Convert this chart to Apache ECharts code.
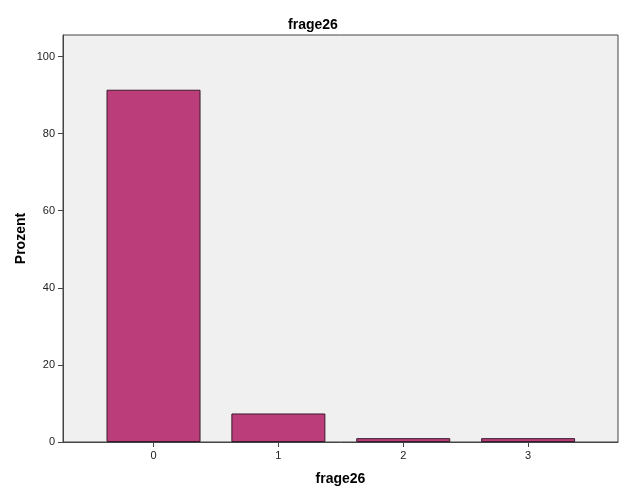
<!DOCTYPE html>
<html>
<head>
<meta charset="utf-8">
<script src="https://cdn.jsdelivr.net/npm/echarts@6/dist/echarts.min.js"></script>
<style>html,body{margin:0;padding:0;background:#fff}#c{width:626px;height:501px}</style>
</head>
<body>
<div id="c"></div>
<script>
const categories = [0, 1, 2, 3];
const values = [91.4, 7.4, 1.0, 1.0];
const yTicks = [0, 20, 40, 60, 80, 100];

const chart = echarts.init(document.getElementById('c'), null, {renderer: 'canvas'});
const font = 'Liberation Sans, Arial, sans-serif';
chart.setOption({
  animation: false,
  backgroundColor: '#ffffff',
  title: {
    text: 'frage26', left: 'center', top: 13,
    textStyle: {fontFamily: font, fontSize: 14, fontWeight: 'bold', color: '#000'}
  },
  grid: {
    left: 63, right: 8, top: 35, bottom: 59,
    show: true, backgroundColor: '#f0f0f0', borderColor: '#444', borderWidth: 1
  },
  xAxis: {
    type: 'value', min: -0.725, max: 3.72,
    name: 'frage26', nameLocation: 'middle', nameGap: 30,
    nameTextStyle: {fontFamily: font, fontSize: 14, fontWeight: 'bold', color: '#000'},
    axisLine: {show: true, onZero: false, lineStyle: {color: '#444'}},
    axisTick: {show: true, length: 5, customValues: categories, lineStyle: {color: '#444'}},
    axisLabel: {customValues: categories, fontFamily: font, fontSize: 11, color: '#222', margin: 8},
    splitLine: {show: false}
  },
  yAxis: {
    type: 'value', min: 0, max: 105.6, interval: 20,
    name: 'Prozent', nameLocation: 'middle', nameRotate: 90, nameGap: 35,
    nameMoveOverlap: false,
    nameTextStyle: {fontFamily: font, fontSize: 14, fontWeight: 'bold', color: '#000'},
    axisLine: {show: true, onZero: false, lineStyle: {color: '#444'}},
    axisTick: {show: true, length: 5, customValues: yTicks, lineStyle: {color: '#444'}},
    axisLabel: {customValues: yTicks, fontFamily: font, fontSize: 11, color: '#222', margin: 8},
    splitLine: {show: false}
  },
  series: [{
    type: 'bar',
    data: categories.map((c, i) => [c, values[i]]),
    barWidth: 94,
    itemStyle: {color: '#bb3e7b', borderColor: '#3a1a2a', borderWidth: 1}
  }]
});
</script>
</body>
</html>
